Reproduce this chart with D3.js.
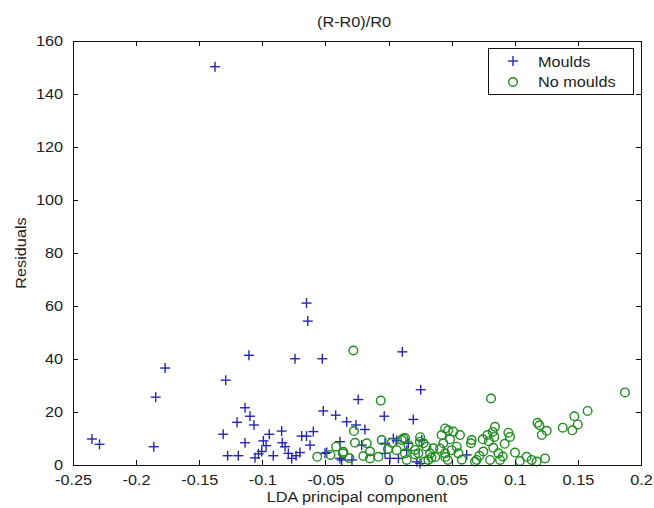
<!DOCTYPE html>
<html>
<head>
<meta charset="utf-8">
<script src="https://cdn.jsdelivr.net/npm/d3@7"></script>
<style>
  body { margin: 0; background: #fff; }
  text { font-family: "Liberation Sans", Arial, sans-serif; font-size: 14px; fill: #222; }
</style>
</head>
<body>
<div id="chart"></div>
<script>
// Data
const mouldsX = [-0.235, -0.229, -0.177, -0.1845, -0.186, -0.129, -0.131, -0.1275, -0.120, -0.119,
  -0.1375, -0.065, -0.064, -0.1106, -0.0741, -0.0525, 0.0109, -0.024, -0.0034, -0.1137,
  -0.1098, -0.1066, -0.0517, -0.0419, -0.0332, -0.0258, -0.0187, -0.0847, -0.0945, -0.1137,
  -0.0992, -0.097, -0.0842, -0.082, -0.0688, -0.065, -0.0596, -0.0622, -0.1058, -0.1005,
  -0.0913, -0.0794, -0.0767, -0.0702, -0.0733, -0.0385, -0.049, -0.0371, -0.029, -0.0213,
  -0.0028, 0.0038, 0.0144, 0.0011, 0.0255, 0.0196, 0.0619, 0.0157, 0.0263, 0.025,
  0.0065, -0.0504, -0.0385, -0.0028, 0.0078, 0.0224, -0.103];
const mouldsY = [9.8, 7.8, 36.6, 25.6, 6.9, 32.0, 11.6, 3.5, 16.1, 3.5,
  150.3, 61.1, 54.3, 41.4, 40.1, 40.1, 42.7, 24.7, 18.4, 21.6,
  18.4, 15.1, 20.4, 18.8, 16.3, 15.1, 13.4, 12.8, 11.6, 8.4,
  9.1, 7.3, 8.4, 6.9, 10.9, 10.9, 12.6, 7.5, 2.7, 5.1,
  3.5, 4.4, 2.5, 4.7, 3.5, 8.8, 4.7, 1.9, 1.9, 7.5,
  8.2, 10.0, 5.6, 2.5, 28.4, 17.2, 3.8, 8.2, 9.4, 0.6,
  9.2, 4.4, 2.5, 4.4, 2.5, 1.2, 4.2];

const noMouldsX = [-0.0279, -0.0062, -0.0274, -0.0565, -0.0416, -0.0363, -0.0266, -0.0173, -0.0147, -0.0054,
  -0.0081, 0.0117, 0.0065, 0.0812, 0.1873, 0.1577, 0.1472, 0.1499, 0.1456, 0.138,
  0.118, 0.1195, 0.1253, 0.1214, 0.0843, 0.0783, 0.0838, 0.0746, 0.0949, 0.0962,
  0.0653, 0.0751, 0.087, 0.0883, 0.1002, 0.1094, 0.1134, 0.1174, 0.124, 0.0685,
  0.0804, 0.0473, 0.0566, 0.0487, 0.0434, 0.0408, 0.05, 0.0553, 0.0276, 0.0236,
  0.0328, 0.0144, 0.0289, 0.0104, 0.0025, 0.0131, 0.0248, 0.030, -0.0358, -0.02,
  -0.0147, 0.021, 0.037, 0.045, 0.058, 0.092, 0.083, 0.104, 0.072, 0.0905,
  0.0825, 0.0795, -0.0005, -0.046, -0.031, 0.0448, 0.0513, 0.042, 0.054, 0.0447,
  0.047, 0.0658, 0.0157, 0.021, 0.0316, 0.013, 0.0355, 0.0698, 0.025, 0.034];
const noMouldsY = [43.2, 24.3, 12.8, 3.1, 6.9, 4.4, 8.4, 8.2, 5.1, 9.4,
  3.1, 10.0, 5.6, 25.1, 27.4, 20.4, 18.4, 15.3, 13.1, 14.1,
  15.9, 15.0, 12.9, 11.3, 14.4, 11.3, 10.6, 9.7, 12.2, 10.6,
  8.2, 5.1, 4.4, 1.9, 4.7, 3.1, 1.9, 1.3, 2.5, 1.3,
  1.9, 13.1, 11.3, 9.7, 8.2, 6.2, 5.6, 4.4, 8.2, 4.4,
  4.4, 1.9, 1.3, 9.4, 8.4, 10.2, 8.8, 6.9, 5.0, 3.4,
  2.5, 4.0, 3.0, 3.0, 2.0, 8.0, 6.5, 1.5, 3.5, 3.2,
  12.5, 9.0, 6.0, 3.8, 2.6, 13.8, 12.6, 11.3, 6.9, 4.4,
  1.9, 9.4, 7.5, 5.7, 1.9, 4.4, 6.3, 1.9, 10.5, 2.8];

const xTicks = [-0.25, -0.2, -0.15, -0.1, -0.05, 0, 0.05, 0.1, 0.15, 0.2];
const xTickLabels = ["-0.25", "-0.2", "-0.15", "-0.1", "-0.05", "0", "0.05", "0.1", "0.15", "0.2"];
const yTicks = [0, 20, 40, 60, 80, 100, 120, 140, 160];

const titleText = "(R-R0)/R0";
const xLabel = "LDA principal component";
const yLabel = "Residuals";
const seriesNames = ["Moulds", "No moulds"];

const width = 654, height = 508;
const margin = { top: 41, right: 13, bottom: 43, left: 73 };
const plotW = width - margin.left - margin.right;
const plotH = height - margin.top - margin.bottom;
const blue = "#2626b4", green = "#1e8c1e";
const stretch = 1.16;

const svg = d3.select("#chart").append("svg")
    .attr("width", width)
    .attr("height", height);

const g = svg.append("g")
    .attr("transform", `translate(${margin.left},${margin.top})`);

const x = d3.scaleLinear().domain([-0.25, 0.2]).range([0, plotW]);
const y = d3.scaleLinear().domain([0, 160]).range([plotH, 0]);

// markers
function plus(sel, size) {
    sel.append("line").attr("x1", -size).attr("x2", size).attr("y1", 0).attr("y2", 0);
    sel.append("line").attr("x1", 0).attr("x2", 0).attr("y1", -size).attr("y2", size);
}

const moulds = mouldsX.map((d, i) => ({ x: d, y: mouldsY[i] }));
const noMoulds = noMouldsX.map((d, i) => ({ x: d, y: noMouldsY[i] }));

g.append("g").selectAll("g")
    .data(moulds)
    .enter().append("g")
    .attr("transform", d => `translate(${x(d.x)},${y(d.y)})`)
    .attr("stroke", blue)
    .attr("stroke-width", 1.4)
    .each(function () { plus(d3.select(this), 5); });

g.append("g").selectAll("circle")
    .data(noMoulds)
    .enter().append("circle")
    .attr("cx", d => x(d.x))
    .attr("cy", d => y(d.y))
    .attr("r", 4.3)
    .attr("fill", "none")
    .attr("stroke", green)
    .attr("stroke-width", 1.4);

// axes, ticks pointing inward on all four sides
const bottom = g.append("g")
    .attr("transform", `translate(0,${plotH})`)
    .call(d3.axisBottom(x).tickValues(xTicks).tickFormat((d, i) => xTickLabels[i])
        .tickSizeInner(-5).tickSizeOuter(0).tickPadding(10));
bottom.selectAll("text").attr("transform", `scale(${stretch},1)`);

const left = g.append("g")
    .call(d3.axisLeft(y).tickValues(yTicks).tickSizeInner(-5).tickSizeOuter(0));
left.selectAll("text")
    .attr("x", 0)
    .attr("transform", `translate(-10,0) scale(${stretch},1)`);

g.append("g")
    .call(d3.axisTop(x).tickValues(xTicks).tickFormat("").tickSizeInner(-5).tickSizeOuter(0));
g.append("g")
    .attr("transform", `translate(${plotW},0)`)
    .call(d3.axisRight(y).tickValues(yTicks).tickFormat("").tickSizeInner(-5).tickSizeOuter(0));

g.selectAll(".domain").remove();
g.selectAll(".tick line").attr("stroke", "#111").attr("shape-rendering", "crispEdges");
g.selectAll(".tick text").style("font-size", "14px").attr("fill", "#222");

g.append("rect")
    .attr("width", plotW)
    .attr("height", plotH)
    .attr("fill", "none")
    .attr("stroke", "#111")
    .attr("shape-rendering", "crispEdges");

// title and labels
svg.append("text")
    .attr("text-anchor", "middle")
    .attr("transform", `translate(354,27) scale(${stretch},1)`)
    .text(titleText);

svg.append("text")
    .attr("text-anchor", "middle")
    .attr("transform", `translate(${margin.left + plotW / 2},502) scale(${stretch},1)`)
    .text(xLabel);

svg.append("text")
    .attr("text-anchor", "middle")
    .attr("transform", `translate(26,${margin.top + plotH / 2}) rotate(-90) scale(${stretch},1)`)
    .text(yLabel);

// legend
const legend = svg.append("g").attr("transform", "translate(488,48)");
legend.append("rect")
    .attr("width", 145)
    .attr("height", 46)
    .attr("fill", "#fff")
    .attr("stroke", "#111")
    .attr("shape-rendering", "crispEdges");

const m1 = legend.append("g")
    .attr("transform", "translate(25,13)")
    .attr("stroke", blue)
    .attr("stroke-width", 1.4);
plus(m1, 5);
legend.append("circle")
    .attr("cx", 25)
    .attr("cy", 34)
    .attr("r", 4.3)
    .attr("fill", "none")
    .attr("stroke", green)
    .attr("stroke-width", 1.4);

legend.selectAll(".lbl")
    .data(seriesNames)
    .enter().append("text")
    .attr("class", "lbl")
    .attr("transform", (d, i) => `translate(50,${18.5 + i * 20.5}) scale(${stretch},1)`)
    .text(d => d);
</script>
</body>
</html>
